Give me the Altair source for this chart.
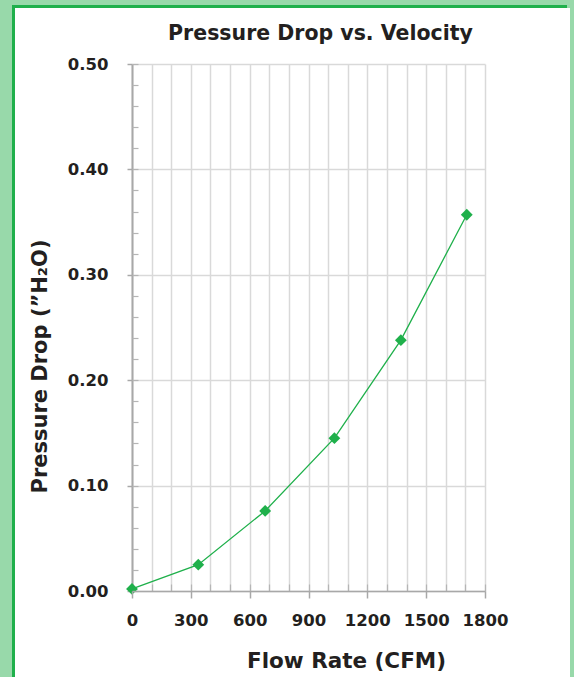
import altair as alt
import pandas as pd

# ---- data ----
flow_cfm = [0, 338, 679, 1032, 1371, 1707]
pressure_drop = [0.002, 0.025, 0.076, 0.145, 0.238, 0.357]

x_major = [0, 300, 600, 900, 1200, 1500, 1800]
x_minor = list(range(0, 1801, 100))
y_major = [0.0, 0.1, 0.2, 0.3, 0.4, 0.5]
y_minor = [round(i * 0.02, 2) for i in range(26)]

df = pd.DataFrame({"flow": flow_cfm, "drop": pressure_drop})

FONT = "DejaVu Sans"
TXT = "#231f20"
GREEN = "#1fb04b"
GRID = "#d9d9d9"
AXIS = "#a8a8a8"
W, H = 353, 527

xscale = alt.Scale(domain=[0, 1800], nice=False, zero=False)
yscale = alt.Scale(domain=[0, 0.5], nice=False, zero=False)

main_x = alt.Axis(
    orient="bottom", values=x_major, format="d", grid=False,
    tickSize=7, tickColor=AXIS, tickWidth=1.5,
    domainColor=AXIS, domainWidth=1.5,
    labelFont=FONT, labelFontSize=16.5, labelFontWeight="bold", labelColor=TXT,
    labelPadding=14, labelOverlap=False, labelFlush=False,
    title="Flow Rate (CFM)", titleFont=FONT, titleFontSize=21.5, titleFontWeight="bold",
    titleColor=TXT, titleX=214, titleY=76, titleBaseline="alphabetic", titleAlign="center",
    zindex=1,
)
main_y = alt.Axis(
    orient="left", values=y_major, format=".2f", grid=True, gridColor=GRID, gridWidth=1.5,
    tickSize=5, tickColor=AXIS, tickWidth=1.5,
    domainColor=AXIS, domainWidth=2,
    labelFont=FONT, labelFontSize=16.5, labelFontWeight="bold", labelColor=TXT,
    labelPadding=19, labelOverlap=False, labelFlush=False,
    title="Pressure Drop (\u201dH\u2082O)", titleFont=FONT, titleFontSize=21, titleFontWeight="bold",
    titleColor=TXT, titleX=-86, titleY=302, titleBaseline="alphabetic", titleAlign="center",
    titleAngle=270,
)
minor_x = alt.Axis(
    orient="top", offset=-H, values=x_minor, grid=True, gridColor=GRID, gridWidth=1.5,
    tickSize=7, tickColor="#b5b5b5", tickWidth=1.2, domain=False, labels=False, title=None,
)
minor_y = alt.Axis(
    orient="right", offset=-W, values=y_minor, grid=False,
    tickSize=6, tickColor="#b5b5b5", tickWidth=1.2, domain=False, labels=False, title=None,
)

line = alt.Chart(df).mark_line(color=GREEN, strokeWidth=1.3).encode(
    x=alt.X("flow:Q", scale=xscale, axis=main_x),
    y=alt.Y("drop:Q", scale=yscale, axis=main_y),
)
points = alt.Chart(df).mark_point(
    shape="diamond", filled=True, size=140, color=GREEN, opacity=1
).encode(
    x=alt.X("flow:Q", scale=xscale, axis=minor_x),
    y=alt.Y("drop:Q", scale=yscale, axis=minor_y),
)

chart = (
    alt.layer(line, points)
    .resolve_axis(x="independent", y="independent")
    .properties(
        width=W, height=H,
        autosize=alt.AutoSizeParams(type="none"),
        padding={"left": 117, "top": 56, "right": 85, "bottom": 110},
        background="#ffffff",
        title=alt.TitleParams(
            "Pressure Drop vs. Velocity", font=FONT, fontSize=20.5, fontWeight="bold",
            color=TXT, anchor="middle", frame="group", dx=12, dy=17, offset=13,
            baseline="alphabetic",
        ),
    )
    .configure_view(stroke=None)
)

chart.save("out.html", embed_options={"renderer": "svg", "actions": False})

# page frame: light green page with a green-bordered white panel
with open("out.html", encoding="utf-8") as f:
    html = f.read()
css = (
    "<style>html,body{margin:0;padding:0;background:#98d9aa;}"
    "#vis{position:absolute !important;left:12px;top:5px;width:555px !important;"
    "height:740px;border:3px solid #1fb04b;background:#ffffff;display:block !important;"
    "padding:0 !important;}</style>"
)
html = html.replace("</head>", css + "</head>", 1)
with open("out.html", "w", encoding="utf-8") as f:
    f.write(html)
